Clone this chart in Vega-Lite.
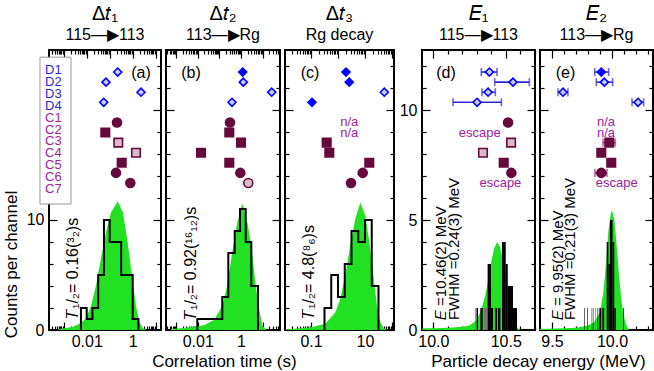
{
  "$schema": "https://vega.github.io/schema/vega-lite/v6.json",
  "padding": {"left": 1, "top": 3, "right": 0, "bottom": 0},
  "background": "white",
  "spacing": 2,
  "config": {
    "font": "Liberation Sans",
    "view": {"stroke": "black", "strokeWidth": 2},
    "axis": {"domain": false, "grid": false, "labelFont": "Liberation Sans", "labelFontSize": 16, "labelColor": "black", "tickColor": "black", "tickWidth": 1.2, "labelOverlap": false, "labelFlush": false, "titleFont": "Liberation Sans", "titleFontSize": 17, "titleFontWeight": "normal", "titleColor": "black"},
    "title": {"font": "Liberation Sans", "fontSize": 20, "fontWeight": "normal", "color": "black", "subtitleFont": "Liberation Sans", "subtitleFontSize": 16, "subtitleColor": "black", "subtitlePadding": 3, "offset": 6, "anchor": "middle"},
    "text": {"font": "Liberation Sans"}
  },
  "datasets": {
    "hist": [
      {"panel": "a", "t": 0.005623, "n": 0}, {"panel": "a", "t": 0.005623, "n": 2}, {"panel": "a", "t": 0.01, "n": 1}, {"panel": "a", "t": 0.01778, "n": 2}, {"panel": "a", "t": 0.03162, "n": 5}, {"panel": "a", "t": 0.05623, "n": 10}, {"panel": "a", "t": 0.1, "n": 8}, {"panel": "a", "t": 0.1778, "n": 8}, {"panel": "a", "t": 0.3162, "n": 5}, {"panel": "a", "t": 0.5623, "n": 5}, {"panel": "a", "t": 1.0, "n": 1}, {"panel": "a", "t": 1.778, "n": 0},
      {"panel": "b", "t": 0.0096, "n": 0}, {"panel": "b", "t": 0.0096, "n": 1}, {"panel": "b", "t": 0.1368, "n": 3}, {"panel": "b", "t": 0.2588, "n": 7}, {"panel": "b", "t": 0.5117, "n": 9}, {"panel": "b", "t": 0.8995, "n": 11}, {"panel": "b", "t": 1.648, "n": 8}, {"panel": "b", "t": 2.992, "n": 4}, {"panel": "b", "t": 6.095, "n": 0},
      {"panel": "c", "t": 0.3162, "n": 0}, {"panel": "c", "t": 0.3162, "n": 2}, {"panel": "c", "t": 0.5623, "n": 5}, {"panel": "c", "t": 1.0, "n": 3}, {"panel": "c", "t": 1.778, "n": 6}, {"panel": "c", "t": 3.162, "n": 9}, {"panel": "c", "t": 5.623, "n": 8}, {"panel": "c", "t": 10, "n": 10}, {"panel": "c", "t": 17.78, "n": 4}, {"panel": "c", "t": 31.62, "n": 0}
    ],
    "fit": [
      {"panel": "a", "x": 0.00063, "n": 0.1}, {"panel": "a", "x": 0.00126, "n": 0.18}, {"panel": "a", "x": 0.0025, "n": 0.3}, {"panel": "a", "x": 0.0048, "n": 0.57}, {"panel": "a", "x": 0.0093, "n": 1.03}, {"panel": "a", "x": 0.0155, "n": 2.2}, {"panel": "a", "x": 0.0251, "n": 4.0}, {"panel": "a", "x": 0.0417, "n": 6.5}, {"panel": "a", "x": 0.0692, "n": 8.9}, {"panel": "a", "x": 0.115, "n": 10.7}, {"panel": "a", "x": 0.224, "n": 11.7}, {"panel": "a", "x": 0.372, "n": 10.7}, {"panel": "a", "x": 0.603, "n": 8.0}, {"panel": "a", "x": 1.0, "n": 4.4}, {"panel": "a", "x": 1.38, "n": 2.2}, {"panel": "a", "x": 1.95, "n": 0.7}, {"panel": "a", "x": 2.69, "n": 0.2}, {"panel": "a", "x": 3.98, "n": 0},
      {"panel": "b", "x": 0.00058, "n": 0.08}, {"panel": "b", "x": 0.00233, "n": 0.18}, {"panel": "b", "x": 0.01954, "n": 0.43}, {"panel": "b", "x": 0.0566, "n": 0.9}, {"panel": "b", "x": 0.1368, "n": 2.2}, {"panel": "b", "x": 0.2329, "n": 4.06}, {"panel": "b", "x": 0.3963, "n": 7.1}, {"panel": "b", "x": 0.6745, "n": 9.8}, {"panel": "b", "x": 1.148, "n": 11.5}, {"panel": "b", "x": 1.954, "n": 9.8}, {"panel": "b", "x": 2.992, "n": 7.7}, {"panel": "b", "x": 4.777, "n": 4.06}, {"panel": "b", "x": 6.78, "n": 1.9}, {"panel": "b", "x": 9.64, "n": 0.43}, {"panel": "b", "x": 13.8, "n": 0.05}, {"panel": "b", "x": 20, "n": 0},
      {"panel": "c", "x": 0.0115, "n": 0.06}, {"panel": "c", "x": 0.0262, "n": 0.12}, {"panel": "c", "x": 0.1089, "n": 0.27}, {"panel": "c", "x": 0.339, "n": 0.57}, {"panel": "c", "x": 0.794, "n": 1.6}, {"panel": "c", "x": 1.216, "n": 2.85}, {"panel": "c", "x": 1.862, "n": 5}, {"panel": "c", "x": 2.856, "n": 7.7}, {"panel": "c", "x": 4.375, "n": 10.1}, {"panel": "c", "x": 6.7, "n": 11.6}, {"panel": "c", "x": 10.26, "n": 10.4}, {"panel": "c", "x": 14.43, "n": 8}, {"panel": "c", "x": 20.98, "n": 4.7}, {"panel": "c", "x": 27.8, "n": 2.2}, {"panel": "c", "x": 36.9, "n": 0.7}, {"panel": "c", "x": 49.3, "n": 0.15}, {"panel": "c", "x": 65.3, "n": 0},
      {"panel": "d", "x": 9.925, "n": 0.08}, {"panel": "d", "x": 10.0, "n": 0.08}, {"panel": "d", "x": 10.1, "n": 0.1}, {"panel": "d", "x": 10.2, "n": 0.15}, {"panel": "d", "x": 10.25, "n": 0.2}, {"panel": "d", "x": 10.3, "n": 0.45}, {"panel": "d", "x": 10.33, "n": 0.9}, {"panel": "d", "x": 10.36, "n": 1.6}, {"panel": "d", "x": 10.38, "n": 2.3}, {"panel": "d", "x": 10.4, "n": 3.1}, {"panel": "d", "x": 10.42, "n": 3.7}, {"panel": "d", "x": 10.44, "n": 4.0}, {"panel": "d", "x": 10.46, "n": 3.8}, {"panel": "d", "x": 10.48, "n": 3.2}, {"panel": "d", "x": 10.5, "n": 2.5}, {"panel": "d", "x": 10.52, "n": 1.7}, {"panel": "d", "x": 10.54, "n": 1.0}, {"panel": "d", "x": 10.56, "n": 0.45}, {"panel": "d", "x": 10.58, "n": 0.1}, {"panel": "d", "x": 10.6, "n": 0},
      {"panel": "e", "x": 9.4, "n": 0.05}, {"panel": "e", "x": 9.6, "n": 0.08}, {"panel": "e", "x": 9.7, "n": 0.1}, {"panel": "e", "x": 9.8, "n": 0.2}, {"panel": "e", "x": 9.85, "n": 0.35}, {"panel": "e", "x": 9.9, "n": 0.8}, {"panel": "e", "x": 9.93, "n": 1.8}, {"panel": "e", "x": 9.95, "n": 3.0}, {"panel": "e", "x": 9.97, "n": 4.5}, {"panel": "e", "x": 9.99, "n": 5.3}, {"panel": "e", "x": 10.0, "n": 5.44}, {"panel": "e", "x": 10.02, "n": 5.0}, {"panel": "e", "x": 10.04, "n": 3.8}, {"panel": "e", "x": 10.06, "n": 2.4}, {"panel": "e", "x": 10.08, "n": 1.3}, {"panel": "e", "x": 10.1, "n": 0.6}, {"panel": "e", "x": 10.12, "n": 0.2}, {"panel": "e", "x": 10.14, "n": 0}
    ],
    "ebars": [
      {"panel": "d", "e0": 10.290, "e1": 10.300, "n": 1, "src": "B"}, {"panel": "d", "e0": 10.300, "e1": 10.309, "n": 1, "src": "A"}, {"panel": "d", "e0": 10.325, "e1": 10.341, "n": 1, "src": "A"}, {"panel": "d", "e0": 10.348, "e1": 10.371, "n": 1, "src": "B"}, {"panel": "d", "e0": 10.375, "e1": 10.398, "n": 3, "src": "A"}, {"panel": "d", "e0": 10.398, "e1": 10.412, "n": 1, "src": "A"}, {"panel": "d", "e0": 10.428, "e1": 10.440, "n": 1, "src": "A"}, {"panel": "d", "e0": 10.447, "e1": 10.463, "n": 1, "src": "A"}, {"panel": "d", "e0": 10.474, "e1": 10.500, "n": 4, "src": "A"}, {"panel": "d", "e0": 10.500, "e1": 10.514, "n": 3, "src": "A"}, {"panel": "d", "e0": 10.514, "e1": 10.550, "n": 2, "src": "A"}, {"panel": "d", "e0": 10.550, "e1": 10.578, "n": 1, "src": "A"},
      {"panel": "e", "e0": 9.767, "e1": 9.772, "n": 1, "src": "A"}, {"panel": "e", "e0": 9.795, "e1": 9.800, "n": 1, "src": "A"}, {"panel": "e", "e0": 9.825, "e1": 9.830, "n": 1, "src": "B"}, {"panel": "e", "e0": 9.840, "e1": 9.845, "n": 1, "src": "A"}, {"panel": "e", "e0": 9.860, "e1": 9.865, "n": 1, "src": "B"}, {"panel": "e", "e0": 9.880, "e1": 9.885, "n": 1, "src": "A"}, {"panel": "e", "e0": 9.895, "e1": 9.910, "n": 1, "src": "A"}, {"panel": "e", "e0": 9.920, "e1": 9.935, "n": 1, "src": "A"}, {"panel": "e", "e0": 9.956, "e1": 9.970, "n": 4, "src": "A"}, {"panel": "e", "e0": 9.970, "e1": 9.983, "n": 3, "src": "A"}, {"panel": "e", "e0": 9.983, "e1": 10.005, "n": 5, "src": "A"}, {"panel": "e", "e0": 10.005, "e1": 10.019, "n": 4, "src": "A"}, {"panel": "e", "e0": 10.019, "e1": 10.033, "n": 1, "src": "A"}, {"panel": "e", "e0": 10.094, "e1": 10.100, "n": 1, "src": "A"}
    ],
    "events": [
      {"panel": "a", "chain": "D1", "group": "D", "marker": "diamond", "style": "hatched", "v": 0.2228},
      {"panel": "a", "chain": "D2", "group": "D", "marker": "diamond", "style": "hatched", "v": 0.069},
      {"panel": "a", "chain": "D3", "group": "D", "marker": "diamond", "style": "hatched", "v": 2.3},
      {"panel": "a", "chain": "D4", "group": "D", "marker": "diamond", "style": "hatched", "v": 0.0548},
      {"panel": "a", "chain": "C1", "group": "C", "marker": "circle", "style": "solid", "v": 0.2076},
      {"panel": "a", "chain": "C2", "group": "C", "marker": "square", "style": "solid", "v": 0.0644},
      {"panel": "a", "chain": "C3", "group": "C", "marker": "square", "style": "hatched", "v": 0.2366},
      {"panel": "a", "chain": "C4", "group": "C", "marker": "square", "style": "hatched", "v": 1.392},
      {"panel": "a", "chain": "C5", "group": "C", "marker": "square", "style": "solid", "v": 0.3324},
      {"panel": "a", "chain": "C6", "group": "C", "marker": "circle", "style": "solid", "v": 0.188},
      {"panel": "a", "chain": "C7", "group": "C", "marker": "circle", "style": "solid", "v": 0.787},
      {"panel": "b", "chain": "D1", "group": "D", "marker": "diamond", "style": "solid", "v": 1.198},
      {"panel": "b", "chain": "D2", "group": "D", "marker": "diamond", "style": "hatched", "v": 1.277},
      {"panel": "b", "chain": "D3", "group": "D", "marker": "diamond", "style": "hatched", "v": 26.2},
      {"panel": "b", "chain": "D4", "group": "D", "marker": "diamond", "style": "hatched", "v": 0.384},
      {"panel": "b", "chain": "C1", "group": "C", "marker": "circle", "style": "solid", "v": 0.31},
      {"panel": "b", "chain": "C2", "group": "C", "marker": "square", "style": "solid", "v": 0.288},
      {"panel": "b", "chain": "C3", "group": "C", "marker": "square", "style": "solid", "v": 1.0},
      {"panel": "b", "chain": "C4", "group": "C", "marker": "square", "style": "solid", "v": 0.0142},
      {"panel": "b", "chain": "C5", "group": "C", "marker": "square", "style": "solid", "v": 0.288},
      {"panel": "b", "chain": "C6", "group": "C", "marker": "circle", "style": "solid", "v": 0.929},
      {"panel": "b", "chain": "C7", "group": "C", "marker": "circle", "style": "hatched", "v": 2.174},
      {"panel": "c", "chain": "D1", "group": "D", "marker": "diamond", "style": "solid", "v": 1.977},
      {"panel": "c", "chain": "D2", "group": "D", "marker": "diamond", "style": "solid", "v": 2.62},
      {"panel": "c", "chain": "D3", "group": "D", "marker": "diamond", "style": "hatched", "v": 51.9},
      {"panel": "c", "chain": "D4", "group": "D", "marker": "diamond", "style": "solid", "v": 0.1089},
      {"panel": "c", "chain": "C3", "group": "C", "marker": "square", "style": "solid", "v": 0.3815},
      {"panel": "c", "chain": "C4", "group": "C", "marker": "square", "style": "solid", "v": 0.4764},
      {"panel": "c", "chain": "C5", "group": "C", "marker": "square", "style": "solid", "v": 14.4},
      {"panel": "c", "chain": "C6", "group": "C", "marker": "circle", "style": "solid", "v": 8.22},
      {"panel": "c", "chain": "C7", "group": "C", "marker": "circle", "style": "solid", "v": 3.03},
      {"panel": "d", "chain": "D1", "group": "D", "marker": "diamond", "style": "hatched", "v": 10.387, "lo": 10.331, "hi": 10.44},
      {"panel": "d", "chain": "D2", "group": "D", "marker": "diamond", "style": "hatched", "v": 10.55, "lo": 10.424, "hi": 10.663},
      {"panel": "d", "chain": "D3", "group": "D", "marker": "diamond", "style": "hatched", "v": 10.378, "lo": 10.336, "hi": 10.428},
      {"panel": "d", "chain": "D4", "group": "D", "marker": "diamond", "style": "hatched", "v": 10.302, "lo": 10.136, "hi": 10.47},
      {"panel": "d", "chain": "C1", "group": "C", "marker": "circle", "style": "solid", "v": 10.516},
      {"panel": "d", "chain": "C3", "group": "C", "marker": "square", "style": "hatched", "v": 10.537},
      {"panel": "d", "chain": "C4", "group": "C", "marker": "square", "style": "hatched", "v": 10.343},
      {"panel": "d", "chain": "C5", "group": "C", "marker": "square", "style": "solid", "v": 10.486},
      {"panel": "d", "chain": "C6", "group": "C", "marker": "circle", "style": "solid", "v": 10.539},
      {"panel": "e", "chain": "D1", "group": "D", "marker": "diamond", "style": "solid", "v": 9.911, "lo": 9.856, "hi": 9.9725},
      {"panel": "e", "chain": "D2", "group": "D", "marker": "diamond", "style": "hatched", "v": 9.936, "lo": 9.869, "hi": 10.006},
      {"panel": "e", "chain": "D3", "group": "D", "marker": "diamond", "style": "hatched", "v": 9.592, "lo": 9.55, "hi": 9.633},
      {"panel": "e", "chain": "D4", "group": "D", "marker": "diamond", "style": "hatched", "v": 10.217, "lo": 10.167, "hi": 10.264},
      {"panel": "e", "chain": "C3", "group": "C", "marker": "square", "style": "solid", "v": 9.9775, "lo": 9.925, "hi": 10.0275},
      {"panel": "e", "chain": "C4", "group": "C", "marker": "square", "style": "solid", "v": 9.911},
      {"panel": "e", "chain": "C5", "group": "C", "marker": "square", "style": "solid", "v": 9.994},
      {"panel": "e", "chain": "C6", "group": "C", "marker": "circle", "style": "solid", "v": 9.911, "lo": 9.858, "hi": 9.958}
    ],
    "chains": [
      {"chain": "D1", "group": "D"}, {"chain": "D2", "group": "D"}, {"chain": "D3", "group": "D"}, {"chain": "D4", "group": "D"},
      {"chain": "C1", "group": "C"}, {"chain": "C2", "group": "C"}, {"chain": "C3", "group": "C"}, {"chain": "C4", "group": "C"}, {"chain": "C5", "group": "C"}, {"chain": "C6", "group": "C"}, {"chain": "C7", "group": "C"}
    ],
    "notes": [
      {"panel": "c", "chain": "C1", "note": "n/a"}, {"panel": "c", "chain": "C2", "note": "n/a"},
      {"panel": "d", "chain": "C2", "note": "escape"}, {"panel": "d", "chain": "C7", "note": "escape"},
      {"panel": "e", "chain": "C1", "note": "n/a"}, {"panel": "e", "chain": "C2", "note": "n/a"}, {"panel": "e", "chain": "C7", "note": "escape"}
    ]
  },
  "hconcat": [
    {
      "bounds": "flush",
      "spacing": 5,
      "title": {"text": "Correlation time (s)", "orient": "bottom", "anchor": "middle", "frame": "bounds", "fontSize": 17, "offset": 0, "dx": 26},
      "hconcat": [
        {
          "width": 112, "height": 280,
          "title": {"text": "Δ𝑡₁", "subtitle": "115—▶113"},
          "resolve": {"scale": {"y": "independent"}, "axis": {"x": "independent"}},
          "layer": [
            {"data": {"name": "fit"}, "transform": [{"filter": "datum.panel == 'a'"}],
             "mark": {"type": "area", "color": "#22e022"},
             "encoding": {
               "x": {"field": "x", "type": "quantitative", "scale": {"type": "log", "domain": [0.0002296, 16.98], "nice": false},
                     "axis": {"orient": "bottom", "title": null, "format": "~g", "values": [0.0003,0.0004,0.0005,0.0006,0.0007,0.0008,0.0009,0.001,0.002,0.003,0.004,0.005,0.006,0.007,0.008,0.009,0.01,0.02,0.03,0.04,0.05,0.06,0.07,0.08,0.09,0.1,0.2,0.3,0.4,0.5,0.6,0.7,0.8,0.9,1,2,3,4,5,6,7,8,9,10],
                              "labelExpr": "datum.value == 0.01 || datum.value == 1 ? datum.label : ''",
                              "tickSize": {"condition": {"test": "abs(log(datum.value)/LN10 - round(log(datum.value)/LN10)) < 0.01", "value": -8}, "value": -4}, "labelPadding": 11}},
               "y": {"field": "n", "type": "quantitative", "scale": {"domain": [0, 25.45], "nice": false},
                     "axis": {"orient": "left", "title": "Counts per channel", "titleY": 214, "titlePadding": 6, "values": [0,2,4,6,8,10,12,14,16,18,20,22,24],
                              "labelExpr": "datum.value == 0 || datum.value == 10 ? datum.label : ''",
                              "tickSize": {"condition": {"test": "datum.value % 10 == 0", "value": -8}, "value": -4}, "labelPadding": 13}}
             }},
            {"data": {"name": "hist"}, "transform": [{"filter": "datum.panel == 'a'"}],
             "mark": {"type": "line", "interpolate": "step-after", "color": "black", "strokeWidth": 2},
             "encoding": {
               "x": {"field": "t", "type": "quantitative",
                     "axis": {"orient": "top", "title": null, "labels": false, "values": [0.0003,0.0004,0.0005,0.0006,0.0007,0.0008,0.0009,0.001,0.002,0.003,0.004,0.005,0.006,0.007,0.008,0.009,0.01,0.02,0.03,0.04,0.05,0.06,0.07,0.08,0.09,0.1,0.2,0.3,0.4,0.5,0.6,0.7,0.8,0.9,1,2,3,4,5,6,7,8,9,10],
                              "tickSize": {"condition": {"test": "abs(log(datum.value)/LN10 - round(log(datum.value)/LN10)) < 0.01", "value": -8}, "value": -4}}},
               "y": {"field": "n", "type": "quantitative", "scale": {"domain": [0, 25.45], "nice": false},
                     "axis": {"orient": "right", "title": null, "labels": false, "values": [0,2,4,6,8,10,12,14,16,18,20,22,24],
                              "tickSize": {"condition": {"test": "datum.value % 10 == 0", "value": -8}, "value": -4}}}
             }},
            {"data": {"values": [{}]},
             "mark": {"type": "rect", "fill": "white", "stroke": "#999999", "strokeWidth": 1},
             "encoding": {
               "x": {"datum": 0.000093, "type": "quantitative", "axis": null}, "x2": {"datum": 0.002075},
               "y": {"datum": 24.8, "type": "quantitative", "scale": {"domain": [0, 25.45], "nice": false}, "axis": null}, "y2": {"datum": 11.45}
             }},
            {"data": {"name": "chains"},
             "mark": {"type": "text", "align": "left", "baseline": "middle", "fontSize": 13},
             "encoding": {
               "x": {"datum": 0.000154, "type": "quantitative", "axis": null},
               "y": {"field": "chain", "type": "ordinal", "scale": {"type": "point", "domain": ["D1","D2","D3","D4","C1","C2","C3","C4","C5","C6","C7"], "range": [13.7, 145.3]}, "axis": null},
               "text": {"field": "chain"},
               "color": {"field": "group", "type": "nominal", "scale": {"domain": ["D","C"], "range": ["#2a2ad8","#a0209f"]}, "legend": null}
             }},
            {"data": {"name": "events"}, "transform": [{"filter": "datum.panel == 'a'"}],
             "mark": {"type": "point", "strokeWidth": 1.6, "opacity": 1},
             "encoding": {
               "x": {"field": "v", "type": "quantitative", "axis": null},
               "y": {"field": "chain", "type": "ordinal", "scale": {"type": "point", "domain": ["D1","D2","D3","D4","gap","C1","C2","C3","C4","C5","C6","C7"], "range": [17, 138]}, "axis": null},
               "shape": {"field": "marker", "type": "nominal", "scale": {"domain": ["circle","square","diamond"], "range": ["circle","square","diamond"]}, "legend": null},
               "size": {"field": "marker", "type": "nominal", "scale": {"domain": ["circle","square","diamond"], "range": [81, 64, 81]}, "legend": null},
               "stroke": {"field": "group", "type": "nominal", "scale": {"domain": ["D","C"], "range": ["#0000ff","#660a3c"]}, "legend": null},
               "fill": {"condition": [{"test": "datum.style == 'hatched' && datum.group == 'D'", "value": "#c4ccff"}, {"test": "datum.style == 'hatched'", "value": "#d8bccb"}, {"test": "datum.group == 'D'", "value": "#0000ff"}], "value": "#660a3c"}
             }},
            {"data": {"values": [{}]},
             "mark": {"type": "text", "text": "(a)", "fontSize": 16, "align": "center", "baseline": "middle"},
             "encoding": {
               "x": {"datum": 2.296, "type": "quantitative", "axis": null},
               "y": {"datum": 23.36, "type": "quantitative", "scale": {"domain": [0, 25.45], "nice": false}, "axis": null}
             }},
            {"data": {"values": [{}]},
             "mark": {"type": "text", "text": "𝑇₁/₂= 0.16(³₂)s", "fontSize": 16, "angle": 270, "align": "left", "baseline": "middle"},
             "encoding": {
               "x": {"datum": 0.002536, "type": "quantitative", "axis": null},
               "y": {"datum": 1.0, "type": "quantitative", "scale": {"domain": [0, 25.45], "nice": false}, "axis": null}
             }}
          ]
        },
        {
          "width": 114, "height": 280,
          "title": {"text": "Δ𝑡₂", "subtitle": "113—▶Rg"},
          "resolve": {"scale": {"y": "independent"}, "axis": {"x": "independent"}},
          "layer": [
            {"data": {"name": "fit"}, "transform": [{"filter": "datum.panel == 'b'"}],
             "mark": {"type": "area", "color": "#22e022"},
             "encoding": {
               "x": {"field": "x", "type": "quantitative", "scale": {"type": "log", "domain": [0.000343, 63.3], "nice": false},
                     "axis": {"orient": "bottom", "title": null, "format": "~g", "values": [0.0004,0.0005,0.0006,0.0007,0.0008,0.0009,0.001,0.002,0.003,0.004,0.005,0.006,0.007,0.008,0.009,0.01,0.02,0.03,0.04,0.05,0.06,0.07,0.08,0.09,0.1,0.2,0.3,0.4,0.5,0.6,0.7,0.8,0.9,1,2,3,4,5,6,7,8,9,10,20,30,40,50,60],
                              "labelExpr": "datum.value == 0.01 || datum.value == 1 ? datum.label : ''",
                              "tickSize": {"condition": {"test": "abs(log(datum.value)/LN10 - round(log(datum.value)/LN10)) < 0.01", "value": -8}, "value": -4}, "labelPadding": 11}},
               "y": {"field": "n", "type": "quantitative", "scale": {"domain": [0, 25.45], "nice": false},
                     "axis": {"orient": "left", "title": null, "labels": false, "values": [0,2,4,6,8,10,12,14,16,18,20,22,24],
                              "tickSize": {"condition": {"test": "datum.value % 10 == 0", "value": -8}, "value": -4}}}
             }},
            {"data": {"name": "hist"}, "transform": [{"filter": "datum.panel == 'b'"}],
             "mark": {"type": "line", "interpolate": "step-after", "color": "black", "strokeWidth": 2},
             "encoding": {
               "x": {"field": "t", "type": "quantitative",
                     "axis": {"orient": "top", "title": null, "labels": false, "values": [0.0004,0.0005,0.0006,0.0007,0.0008,0.0009,0.001,0.002,0.003,0.004,0.005,0.006,0.007,0.008,0.009,0.01,0.02,0.03,0.04,0.05,0.06,0.07,0.08,0.09,0.1,0.2,0.3,0.4,0.5,0.6,0.7,0.8,0.9,1,2,3,4,5,6,7,8,9,10,20,30,40,50,60],
                              "tickSize": {"condition": {"test": "abs(log(datum.value)/LN10 - round(log(datum.value)/LN10)) < 0.01", "value": -8}, "value": -4}}},
               "y": {"field": "n", "type": "quantitative", "scale": {"domain": [0, 25.45], "nice": false},
                     "axis": {"orient": "right", "title": null, "labels": false, "values": [0,2,4,6,8,10,12,14,16,18,20,22,24],
                              "tickSize": {"condition": {"test": "datum.value % 10 == 0", "value": -8}, "value": -4}}}
             }},
            {"data": {"name": "events"}, "transform": [{"filter": "datum.panel == 'b'"}],
             "mark": {"type": "point", "strokeWidth": 1.6, "opacity": 1},
             "encoding": {
               "x": {"field": "v", "type": "quantitative", "axis": null},
               "y": {"field": "chain", "type": "ordinal", "scale": {"type": "point", "domain": ["D1","D2","D3","D4","gap","C1","C2","C3","C4","C5","C6","C7"], "range": [17, 138]}, "axis": null},
               "shape": {"field": "marker", "type": "nominal", "scale": {"domain": ["circle","square","diamond"], "range": ["circle","square","diamond"]}, "legend": null},
               "size": {"field": "marker", "type": "nominal", "scale": {"domain": ["circle","square","diamond"], "range": [81, 64, 81]}, "legend": null},
               "stroke": {"field": "group", "type": "nominal", "scale": {"domain": ["D","C"], "range": ["#0000ff","#660a3c"]}, "legend": null},
               "fill": {"condition": [{"test": "datum.style == 'hatched' && datum.group == 'D'", "value": "#c4ccff"}, {"test": "datum.style == 'hatched'", "value": "#d8bccb"}, {"test": "datum.group == 'D'", "value": "#0000ff"}], "value": "#660a3c"}
             }},
            {"data": {"values": [{}]},
             "mark": {"type": "text", "text": "(b)", "fontSize": 16, "align": "center", "baseline": "middle"},
             "encoding": {
               "x": {"datum": 0.00491, "type": "quantitative", "axis": null},
               "y": {"datum": 23.36, "type": "quantitative", "scale": {"domain": [0, 25.45], "nice": false}, "axis": null}
             }},
            {"data": {"values": [{}]},
             "mark": {"type": "text", "text": "𝑇₁/₂= 0.92(¹⁶₁₂)s", "fontSize": 16, "angle": 270, "align": "left", "baseline": "middle"},
             "encoding": {
               "x": {"datum": 0.00491, "type": "quantitative", "axis": null},
               "y": {"datum": 0.91, "type": "quantitative", "scale": {"domain": [0, 25.45], "nice": false}, "axis": null}
             }}
          ]
        },
        {
          "width": 109, "height": 280,
          "title": {"text": "Δ𝑡₃", "subtitle": "Rg decay"},
          "resolve": {"scale": {"y": "independent"}, "axis": {"x": "independent"}},
          "layer": [
            {"data": {"name": "fit"}, "transform": [{"filter": "datum.panel == 'c'"}],
             "mark": {"type": "area", "color": "#22e022"},
             "encoding": {
               "x": {"field": "x", "type": "quantitative", "scale": {"type": "log", "domain": [0.01089, 118.6], "nice": false},
                     "axis": {"orient": "bottom", "title": null, "format": "~g", "values": [0.02,0.03,0.04,0.05,0.06,0.07,0.08,0.09,0.1,0.2,0.3,0.4,0.5,0.6,0.7,0.8,0.9,1,2,3,4,5,6,7,8,9,10,20,30,40,50,60,70,80,90,100],
                              "labelExpr": "datum.value == 0.1 || datum.value == 10 ? datum.label : ''",
                              "tickSize": {"condition": {"test": "abs(log(datum.value)/LN10 - round(log(datum.value)/LN10)) < 0.01", "value": -8}, "value": -4}, "labelPadding": 11}},
               "y": {"field": "n", "type": "quantitative", "scale": {"domain": [0, 25.45], "nice": false},
                     "axis": {"orient": "left", "title": null, "labels": false, "values": [0,2,4,6,8,10,12,14,16,18,20,22,24],
                              "tickSize": {"condition": {"test": "datum.value % 10 == 0", "value": -8}, "value": -4}}}
             }},
            {"data": {"name": "hist"}, "transform": [{"filter": "datum.panel == 'c'"}],
             "mark": {"type": "line", "interpolate": "step-after", "color": "black", "strokeWidth": 2},
             "encoding": {
               "x": {"field": "t", "type": "quantitative",
                     "axis": {"orient": "top", "title": null, "labels": false, "values": [0.02,0.03,0.04,0.05,0.06,0.07,0.08,0.09,0.1,0.2,0.3,0.4,0.5,0.6,0.7,0.8,0.9,1,2,3,4,5,6,7,8,9,10,20,30,40,50,60,70,80,90,100],
                              "tickSize": {"condition": {"test": "abs(log(datum.value)/LN10 - round(log(datum.value)/LN10)) < 0.01", "value": -8}, "value": -4}}},
               "y": {"field": "n", "type": "quantitative", "scale": {"domain": [0, 25.45], "nice": false},
                     "axis": {"orient": "right", "title": null, "labels": false, "values": [0,2,4,6,8,10,12,14,16,18,20,22,24],
                              "tickSize": {"condition": {"test": "datum.value % 10 == 0", "value": -8}, "value": -4}}}
             }},
            {"data": {"name": "events"}, "transform": [{"filter": "datum.panel == 'c'"}],
             "mark": {"type": "point", "strokeWidth": 1.6, "opacity": 1},
             "encoding": {
               "x": {"field": "v", "type": "quantitative", "axis": null},
               "y": {"field": "chain", "type": "ordinal", "scale": {"type": "point", "domain": ["D1","D2","D3","D4","gap","C1","C2","C3","C4","C5","C6","C7"], "range": [17, 138]}, "axis": null},
               "shape": {"field": "marker", "type": "nominal", "scale": {"domain": ["circle","square","diamond"], "range": ["circle","square","diamond"]}, "legend": null},
               "size": {"field": "marker", "type": "nominal", "scale": {"domain": ["circle","square","diamond"], "range": [81, 64, 81]}, "legend": null},
               "stroke": {"field": "group", "type": "nominal", "scale": {"domain": ["D","C"], "range": ["#0000ff","#660a3c"]}, "legend": null},
               "fill": {"condition": [{"test": "datum.style == 'hatched' && datum.group == 'D'", "value": "#c4ccff"}, {"test": "datum.style == 'hatched'", "value": "#d8bccb"}, {"test": "datum.group == 'D'", "value": "#0000ff"}], "value": "#660a3c"}
             }},
            {"data": {"name": "notes"}, "transform": [{"filter": "datum.panel == 'c'"}],
             "mark": {"type": "text", "fontSize": 13, "align": "center", "baseline": "middle", "color": "#a0209f"},
             "encoding": {
               "x": {"datum": 2.62, "type": "quantitative", "axis": null},
               "y": {"field": "chain", "type": "ordinal", "scale": {"type": "point", "domain": ["D1","D2","D3","D4","gap","C1","C2","C3","C4","C5","C6","C7"], "range": [17, 138]}, "axis": null},
               "text": {"field": "note"}
             }},
            {"data": {"values": [{}]},
             "mark": {"type": "text", "text": "(c)", "fontSize": 16, "align": "center", "baseline": "middle"},
             "encoding": {
               "x": {"datum": 0.0918, "type": "quantitative", "axis": null},
               "y": {"datum": 23.36, "type": "quantitative", "scale": {"domain": [0, 25.45], "nice": false}, "axis": null}
             }},
            {"data": {"values": [{}]},
             "mark": {"type": "text", "text": "𝑇₁/₂= 4.8(⁸₆)s", "fontSize": 16, "angle": 270, "align": "left", "baseline": "middle"},
             "encoding": {
               "x": {"datum": 0.0843, "type": "quantitative", "axis": null},
               "y": {"datum": 1.0, "type": "quantitative", "scale": {"domain": [0, 25.45], "nice": false}, "axis": null}
             }}
          ]
        }
      ]
    },
    {
      "bounds": "flush",
      "spacing": 5,
      "title": {"text": "Particle decay energy (MeV)", "orient": "bottom", "anchor": "middle", "frame": "bounds", "fontSize": 17, "offset": 0, "dx": 12},
      "hconcat": [
        {
          "width": 113, "height": 280,
          "title": {"text": "𝐸₁", "subtitle": "115—▶113"},
          "resolve": {"scale": {"y": "independent"}, "axis": {"x": "independent"}},
          "layer": [
            {"data": {"name": "fit"}, "transform": [{"filter": "datum.panel == 'd'"}],
             "mark": {"type": "area", "color": "#22e022"},
             "encoding": {
               "x": {"field": "x", "type": "quantitative", "scale": {"domain": [9.922, 10.702], "nice": false, "zero": false},
                     "axis": {"orient": "bottom", "title": null, "format": ".1f", "values": [10.0,10.1,10.2,10.3,10.4,10.5,10.6,10.7],
                              "labelExpr": "datum.value == 10 || datum.value == 10.5 ? datum.label : ''",
                              "tickSize": {"condition": {"test": "abs(datum.value*2 - round(datum.value*2)) < 0.001", "value": -8}, "value": -4}, "labelPadding": 11}},
               "y": {"field": "n", "type": "quantitative", "scale": {"domain": [0, 12.73], "nice": false},
                     "axis": {"orient": "left", "title": null, "values": [0,1,2,3,4,5,6,7,8,9,10,11,12],
                              "labelExpr": "datum.value % 5 == 0 ? datum.label : ''",
                              "tickSize": {"condition": {"test": "datum.value % 5 == 0", "value": -8}, "value": -4}, "labelPadding": 13}}
             }},
            {"data": {"name": "ebars"}, "transform": [{"filter": "datum.panel == 'd'"}],
             "mark": {"type": "rect"},
             "encoding": {
               "x": {"field": "e0", "type": "quantitative",
                     "axis": {"orient": "top", "title": null, "labels": false, "values": [10.0,10.1,10.2,10.3,10.4,10.5,10.6,10.7],
                              "tickSize": {"condition": {"test": "abs(datum.value*2 - round(datum.value*2)) < 0.001", "value": -8}, "value": -4}}},
               "x2": {"field": "e1"},
               "y": {"field": "n", "type": "quantitative", "scale": {"domain": [0, 12.73], "nice": false},
                     "axis": {"orient": "right", "title": null, "labels": false, "values": [0,1,2,3,4,5,6,7,8,9,10,11,12],
                              "tickSize": {"condition": {"test": "datum.value % 5 == 0", "value": -8}, "value": -4}}},
               "y2": {"datum": 0},
               "fill": {"field": "src", "type": "nominal", "scale": {"domain": ["A","B"], "range": ["#000000","#777777"]}, "legend": null}
             }},
            {"data": {"name": "events"}, "transform": [{"filter": "datum.panel == 'd' && isValid(datum.lo)"}],
             "mark": {"type": "rule", "strokeWidth": 1.6},
             "encoding": {
               "x": {"field": "lo", "type": "quantitative", "axis": null}, "x2": {"field": "hi"},
               "y": {"field": "chain", "type": "ordinal", "scale": {"type": "point", "domain": ["D1","D2","D3","D4","gap","C1","C2","C3","C4","C5","C6","C7"], "range": [17, 138]}, "axis": null},
               "color": {"field": "group", "type": "nominal", "scale": {"domain": ["D","C"], "range": ["#0000ff","#660a3c"]}, "legend": null}
             }},
            {"data": {"name": "events"}, "transform": [{"filter": "datum.panel == 'd' && isValid(datum.lo)"}, {"fold": ["lo", "hi"], "as": ["end", "ex"]}],
             "mark": {"type": "tick", "thickness": 1.6, "size": 8, "orient": "vertical"},
             "encoding": {
               "x": {"field": "ex", "type": "quantitative", "axis": null},
               "y": {"field": "chain", "type": "ordinal", "scale": {"type": "point", "domain": ["D1","D2","D3","D4","gap","C1","C2","C3","C4","C5","C6","C7"], "range": [17, 138]}, "axis": null},
               "color": {"field": "group", "type": "nominal", "scale": {"domain": ["D","C"], "range": ["#0000ff","#660a3c"]}, "legend": null}
             }},
            {"data": {"name": "events"}, "transform": [{"filter": "datum.panel == 'd'"}],
             "mark": {"type": "point", "strokeWidth": 1.6, "opacity": 1},
             "encoding": {
               "x": {"field": "v", "type": "quantitative", "axis": null},
               "y": {"field": "chain", "type": "ordinal", "scale": {"type": "point", "domain": ["D1","D2","D3","D4","gap","C1","C2","C3","C4","C5","C6","C7"], "range": [17, 138]}, "axis": null},
               "shape": {"field": "marker", "type": "nominal", "scale": {"domain": ["circle","square","diamond"], "range": ["circle","square","diamond"]}, "legend": null},
               "size": {"field": "marker", "type": "nominal", "scale": {"domain": ["circle","square","diamond"], "range": [81, 64, 81]}, "legend": null},
               "stroke": {"field": "group", "type": "nominal", "scale": {"domain": ["D","C"], "range": ["#0000ff","#660a3c"]}, "legend": null},
               "fill": {"condition": [{"test": "datum.style == 'hatched' && datum.group == 'D'", "value": "#c4ccff"}, {"test": "datum.style == 'hatched'", "value": "#d8bccb"}, {"test": "datum.group == 'D'", "value": "#0000ff"}], "value": "#660a3c"}
             }},
            {"data": {"name": "notes"}, "transform": [{"filter": "datum.panel == 'd' && datum.chain == 'C2'"}],
             "mark": {"type": "text", "fontSize": 13, "align": "center", "baseline": "middle", "color": "#a0209f"},
             "encoding": {
               "x": {"datum": 10.32, "type": "quantitative", "axis": null},
               "y": {"field": "chain", "type": "ordinal", "scale": {"type": "point", "domain": ["D1","D2","D3","D4","gap","C1","C2","C3","C4","C5","C6","C7"], "range": [17, 138]}, "axis": null},
               "text": {"field": "note"}
             }},
            {"data": {"name": "notes"}, "transform": [{"filter": "datum.panel == 'd' && datum.chain == 'C7'"}],
             "mark": {"type": "text", "fontSize": 13, "align": "center", "baseline": "middle", "color": "#a0209f"},
             "encoding": {
               "x": {"datum": 10.463, "type": "quantitative", "axis": null},
               "y": {"field": "chain", "type": "ordinal", "scale": {"type": "point", "domain": ["D1","D2","D3","D4","gap","C1","C2","C3","C4","C5","C6","C7"], "range": [17, 138]}, "axis": null},
               "text": {"field": "note"}
             }},
            {"data": {"values": [{}]},
             "mark": {"type": "text", "text": "(d)", "fontSize": 16, "align": "center", "baseline": "middle"},
             "encoding": {
               "x": {"datum": 10.088, "type": "quantitative", "axis": null},
               "y": {"datum": 11.68, "type": "quantitative", "scale": {"domain": [0, 12.73], "nice": false}, "axis": null}
             }},
            {"data": {"values": [{}]},
             "mark": {"type": "text", "text": "𝐸 =10.46(2) MeV", "fontSize": 15, "angle": 270, "align": "left", "baseline": "middle"},
             "encoding": {
               "x": {"datum": 10.053, "type": "quantitative", "axis": null},
               "y": {"datum": 0.45, "type": "quantitative", "scale": {"domain": [0, 12.73], "nice": false}, "axis": null}
             }},
            {"data": {"values": [{}]},
             "mark": {"type": "text", "text": "FWHM =0.24(3) MeV", "fontSize": 15, "angle": 270, "align": "left", "baseline": "middle"},
             "encoding": {
               "x": {"datum": 10.143, "type": "quantitative", "axis": null},
               "y": {"datum": 0.45, "type": "quantitative", "scale": {"domain": [0, 12.73], "nice": false}, "axis": null}
             }}
          ]
        },
        {
          "width": 113, "height": 280,
          "title": {"text": "𝐸₂", "subtitle": "113—▶Rg"},
          "resolve": {"scale": {"y": "independent"}, "axis": {"x": "independent"}},
          "layer": [
            {"data": {"name": "fit"}, "transform": [{"filter": "datum.panel == 'e'"}],
             "mark": {"type": "area", "color": "#22e022"},
             "encoding": {
               "x": {"field": "x", "type": "quantitative", "scale": {"domain": [9.4, 10.342], "nice": false, "zero": false},
                     "axis": {"orient": "bottom", "title": null, "format": ".1f", "values": [9.4,9.5,9.6,9.7,9.8,9.9,10.0,10.1,10.2,10.3],
                              "labelExpr": "datum.value == 9.5 || datum.value == 10 ? datum.label : ''",
                              "tickSize": {"condition": {"test": "abs(datum.value*2 - round(datum.value*2)) < 0.001", "value": -8}, "value": -4}, "labelPadding": 11}},
               "y": {"field": "n", "type": "quantitative", "scale": {"domain": [0, 12.73], "nice": false},
                     "axis": {"orient": "left", "title": null, "labels": false, "values": [0,1,2,3,4,5,6,7,8,9,10,11,12],
                              "tickSize": {"condition": {"test": "datum.value % 5 == 0", "value": -8}, "value": -4}}}
             }},
            {"data": {"name": "ebars"}, "transform": [{"filter": "datum.panel == 'e'"}],
             "mark": {"type": "rect"},
             "encoding": {
               "x": {"field": "e0", "type": "quantitative",
                     "axis": {"orient": "top", "title": null, "labels": false, "values": [9.4,9.5,9.6,9.7,9.8,9.9,10.0,10.1,10.2,10.3],
                              "tickSize": {"condition": {"test": "abs(datum.value*2 - round(datum.value*2)) < 0.001", "value": -8}, "value": -4}}},
               "x2": {"field": "e1"},
               "y": {"field": "n", "type": "quantitative", "scale": {"domain": [0, 12.73], "nice": false},
                     "axis": {"orient": "right", "title": null, "labels": false, "values": [0,1,2,3,4,5,6,7,8,9,10,11,12],
                              "tickSize": {"condition": {"test": "datum.value % 5 == 0", "value": -8}, "value": -4}}},
               "y2": {"datum": 0},
               "fill": {"field": "src", "type": "nominal", "scale": {"domain": ["A","B"], "range": ["#000000","#777777"]}, "legend": null}
             }},
            {"data": {"name": "events"}, "transform": [{"filter": "datum.panel == 'e' && isValid(datum.lo)"}],
             "mark": {"type": "rule", "strokeWidth": 1.6},
             "encoding": {
               "x": {"field": "lo", "type": "quantitative", "axis": null}, "x2": {"field": "hi"},
               "y": {"field": "chain", "type": "ordinal", "scale": {"type": "point", "domain": ["D1","D2","D3","D4","gap","C1","C2","C3","C4","C5","C6","C7"], "range": [17, 138]}, "axis": null},
               "color": {"field": "group", "type": "nominal", "scale": {"domain": ["D","C"], "range": ["#0000ff","#660a3c"]}, "legend": null}
             }},
            {"data": {"name": "events"}, "transform": [{"filter": "datum.panel == 'e' && isValid(datum.lo)"}, {"fold": ["lo", "hi"], "as": ["end", "ex"]}],
             "mark": {"type": "tick", "thickness": 1.6, "size": 8, "orient": "vertical"},
             "encoding": {
               "x": {"field": "ex", "type": "quantitative", "axis": null},
               "y": {"field": "chain", "type": "ordinal", "scale": {"type": "point", "domain": ["D1","D2","D3","D4","gap","C1","C2","C3","C4","C5","C6","C7"], "range": [17, 138]}, "axis": null},
               "color": {"field": "group", "type": "nominal", "scale": {"domain": ["D","C"], "range": ["#0000ff","#660a3c"]}, "legend": null}
             }},
            {"data": {"name": "events"}, "transform": [{"filter": "datum.panel == 'e'"}],
             "mark": {"type": "point", "strokeWidth": 1.6, "opacity": 1},
             "encoding": {
               "x": {"field": "v", "type": "quantitative", "axis": null},
               "y": {"field": "chain", "type": "ordinal", "scale": {"type": "point", "domain": ["D1","D2","D3","D4","gap","C1","C2","C3","C4","C5","C6","C7"], "range": [17, 138]}, "axis": null},
               "shape": {"field": "marker", "type": "nominal", "scale": {"domain": ["circle","square","diamond"], "range": ["circle","square","diamond"]}, "legend": null},
               "size": {"field": "marker", "type": "nominal", "scale": {"domain": ["circle","square","diamond"], "range": [81, 64, 81]}, "legend": null},
               "stroke": {"field": "group", "type": "nominal", "scale": {"domain": ["D","C"], "range": ["#0000ff","#660a3c"]}, "legend": null},
               "fill": {"condition": [{"test": "datum.style == 'hatched' && datum.group == 'D'", "value": "#c4ccff"}, {"test": "datum.style == 'hatched'", "value": "#d8bccb"}, {"test": "datum.group == 'D'", "value": "#0000ff"}], "value": "#660a3c"}
             }},
            {"data": {"name": "notes"}, "transform": [{"filter": "datum.panel == 'e' && datum.note == 'n/a'"}],
             "mark": {"type": "text", "fontSize": 13, "align": "center", "baseline": "middle", "color": "#a0209f"},
             "encoding": {
               "x": {"datum": 9.95, "type": "quantitative", "axis": null},
               "y": {"field": "chain", "type": "ordinal", "scale": {"type": "point", "domain": ["D1","D2","D3","D4","gap","C1","C2","C3","C4","C5","C6","C7"], "range": [17, 138]}, "axis": null},
               "text": {"field": "note"}
             }},
            {"data": {"name": "notes"}, "transform": [{"filter": "datum.panel == 'e' && datum.note == 'escape'"}],
             "mark": {"type": "text", "fontSize": 13, "align": "center", "baseline": "middle", "color": "#a0209f"},
             "encoding": {
               "x": {"datum": 10.04, "type": "quantitative", "axis": null},
               "y": {"field": "chain", "type": "ordinal", "scale": {"type": "point", "domain": ["D1","D2","D3","D4","gap","C1","C2","C3","C4","C5","C6","C7"], "range": [17, 138]}, "axis": null},
               "text": {"field": "note"}
             }},
            {"data": {"values": [{}]},
             "mark": {"type": "text", "text": "(e)", "fontSize": 16, "align": "center", "baseline": "middle"},
             "encoding": {
               "x": {"datum": 9.6125, "type": "quantitative", "axis": null},
               "y": {"datum": 11.68, "type": "quantitative", "scale": {"domain": [0, 12.73], "nice": false}, "axis": null}
             }},
            {"data": {"values": [{}]},
             "mark": {"type": "text", "text": "𝐸 = 9.95(2) MeV", "fontSize": 15, "angle": 270, "align": "left", "baseline": "middle"},
             "encoding": {
               "x": {"datum": 9.55, "type": "quantitative", "axis": null},
               "y": {"datum": 0.45, "type": "quantitative", "scale": {"domain": [0, 12.73], "nice": false}, "axis": null}
             }},
            {"data": {"values": [{}]},
             "mark": {"type": "text", "text": "FWHM =0.21(3) MeV", "fontSize": 15, "angle": 270, "align": "left", "baseline": "middle"},
             "encoding": {
               "x": {"datum": 9.65, "type": "quantitative", "axis": null},
               "y": {"datum": 0.45, "type": "quantitative", "scale": {"domain": [0, 12.73], "nice": false}, "axis": null}
             }}
          ]
        }
      ]
    }
  ]
}
